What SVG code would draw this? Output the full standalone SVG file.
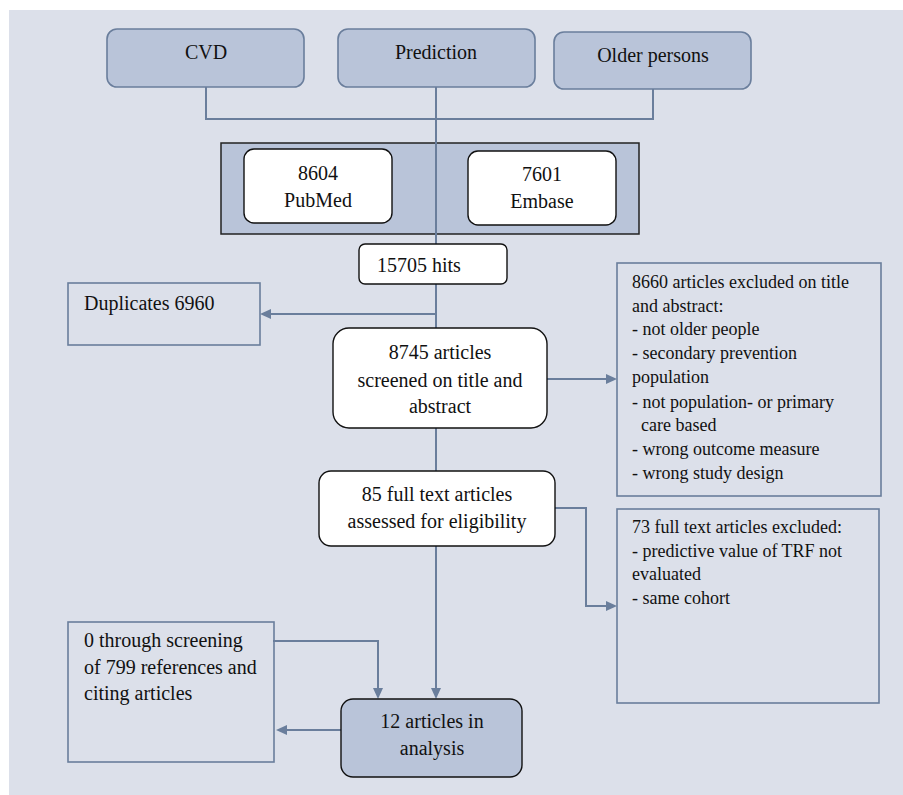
<svg xmlns="http://www.w3.org/2000/svg" width="903" height="795" viewBox="0 0 903 795">
<defs>
<marker id="arr" markerUnits="userSpaceOnUse" markerWidth="11" markerHeight="10" refX="3" refY="5" orient="auto">
<path d="M0,0 L11,5 L0,10 z" fill="#6a7e9c"/>
</marker>
<style>
text{font-family:'Liberation Serif','Tinos','Times New Roman','Nimbus Roman','DejaVu Serif',serif;fill:#111;}
.t{font-size:20px;}
.s{font-size:18px;}
.mid{text-anchor:middle;}
.top{fill:#b9c4d9;stroke:#6a7e9c;stroke-width:1.6;}
.wb{fill:#ffffff;stroke:#111;stroke-width:1.4;}
.db{fill:#b9c4d9;stroke:#111;stroke-width:1.4;}
.ob{fill:none;stroke:#6a7e9c;stroke-width:1.6;}
.ln{fill:none;stroke:#6a7e9c;stroke-width:2;}
</style>
</defs>
<rect x="9" y="10" width="894" height="785" fill="#dce0ea"/>
<g id="cvd"><rect class="top" x="107" y="29" width="197" height="58" rx="10"/><text class="t mid" x="206" y="59">CVD</text></g>
<g id="prediction"><rect class="top" x="338" y="29" width="197" height="58" rx="10"/><text class="t mid" x="436" y="59">Prediction</text></g>
<g id="older"><rect class="top" x="554" y="32" width="197" height="57" rx="10"/><text class="t mid" x="653" y="62">Older persons</text></g>
<g id="databases"><rect x="221" y="143" width="418" height="91" fill="#b9c4d9" stroke="#222" stroke-width="1.5"/></g>
<g id="pubmed"><rect class="wb" x="244" y="149" width="148" height="74" rx="10"/><text class="t mid" x="318" y="180">8604</text><text class="t mid" x="318" y="207">PubMed</text></g>
<g id="embase"><rect class="wb" x="468" y="151" width="148" height="74" rx="10"/><text class="t mid" x="542" y="181">7601</text><text class="t mid" x="542" y="208">Embase</text></g>
<g id="connectors">
<polyline class="ln" points="206,87 206,119 653,119 653,89"/>
<line class="ln" x1="436" y1="87" x2="436" y2="244"/>
<line class="ln" x1="436" y1="284" x2="436" y2="328"/>
<line class="ln" x1="436" y1="314" x2="268" y2="314" marker-end="url(#arr)"/>
<line class="ln" x1="436" y1="428" x2="436" y2="471"/>
<line class="ln" x1="547" y1="379" x2="609" y2="379" marker-end="url(#arr)"/>
<polyline class="ln" points="555,508 586,508 586,606 609,606" marker-end="url(#arr)"/>
<line class="ln" x1="436" y1="546" x2="436" y2="691" marker-end="url(#arr)"/>
<polyline class="ln" points="273,641 378,641 378,691" marker-end="url(#arr)"/>
<line class="ln" x1="341" y1="730" x2="284" y2="730" marker-end="url(#arr)"/>
</g>
<g id="hits"><rect class="wb" x="359" y="244" width="148" height="40" rx="6"/><text class="t" x="377" y="272">15705 hits</text></g>
<g id="duplicates"><rect class="ob" x="68" y="283" width="192" height="62"/><text class="t" x="84" y="310">Duplicates 6960</text></g>
<g id="screened"><rect class="wb" x="333" y="328" width="214" height="100" rx="16"/><text class="t mid" x="440" y="359">8745 articles</text><text class="t mid" x="440" y="387">screened on title and</text><text class="t mid" x="440" y="413">abstract</text></g>
<g id="excluded1"><rect class="ob" x="617" y="263" width="264" height="233"/>
<text class="s" x="632" y="288">8660 articles excluded on title</text>
<text class="s" x="632" y="312">and abstract:</text>
<text class="s" x="632" y="335">- not older people</text>
<text class="s" x="632" y="359">- secondary prevention</text>
<text class="s" x="632" y="383">population</text>
<text class="s" x="632" y="408">- not population- or primary</text>
<text class="s" x="641" y="431">care based</text>
<text class="s" x="632" y="455">- wrong outcome measure</text>
<text class="s" x="632" y="479">- wrong study design</text>
</g>
<g id="fulltext"><rect class="wb" x="319" y="471" width="236" height="75" rx="12"/><text class="t mid" x="437" y="501">85 full text articles</text><text class="t mid" x="437" y="528">assessed for eligibility</text></g>
<g id="excluded2"><rect class="ob" x="617" y="509" width="262" height="194"/>
<text class="s" x="632" y="533">73 full text articles excluded:</text>
<text class="s" x="632" y="557">- predictive value of TRF not</text>
<text class="s" x="632" y="580">evaluated</text>
<text class="s" x="632" y="604">- same cohort</text>
</g>
<g id="references"><rect class="ob" x="68" y="622" width="206" height="140"/>
<text class="t" x="84" y="647">0 through screening</text>
<text class="t" x="84" y="674">of 799 references and</text>
<text class="t" x="84" y="700">citing articles</text>
</g>
<g id="analysis"><rect class="db" x="341" y="699" width="181" height="78" rx="12"/><text class="t mid" x="432" y="728">12 articles in</text><text class="t mid" x="432" y="755">analysis</text></g>
</svg>
